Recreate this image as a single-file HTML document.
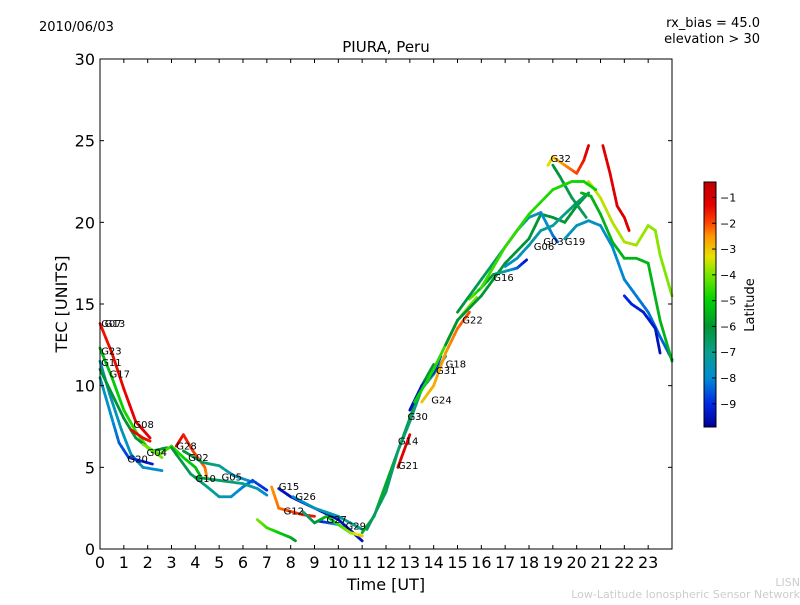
<!DOCTYPE html>
<html><head><meta charset="utf-8">
<style>
body{margin:0;background:#fff;}
svg text{font-family:"DejaVu Sans","Liberation Sans",sans-serif;}
</style></head>
<body>
<svg id="chart" width="800" height="600" xmlns="http://www.w3.org/2000/svg">
<rect width="800" height="600" fill="#fff"/>
<text x="39" y="31" font-size="13">2010/06/03</text>
<text x="760" y="27" font-size="13" text-anchor="end">rx_bias = 45.0</text>
<text x="760" y="43" font-size="13" text-anchor="end">elevation &gt; 30</text>
<text x="386" y="52" font-size="15" text-anchor="middle">PIURA, Peru</text>
<g id="tracks"></g>
<g id="labels"></g>
<rect x="100" y="59" width="572" height="490" fill="none" stroke="#000" stroke-width="1"/>
<g id="axes"></g>
<text x="386" y="590" font-size="16" text-anchor="middle">Time [UT]</text>
<text transform="translate(67,304) rotate(-90)" font-size="16" text-anchor="middle">TEC [UNITS]</text>
<defs><linearGradient id="cgrad" x1="0" y1="1" x2="0" y2="0"></linearGradient></defs>
<rect x="704" y="182" width="12" height="245" fill="url(#cgrad)" stroke="#000" stroke-width="1"/>
<g id="cbar"></g>
<text transform="translate(754,305) rotate(-90)" font-size="13" text-anchor="middle">Latitude</text>
<text x="800" y="586" font-size="11" fill="#ccc" text-anchor="end">LISN</text>
<text x="800" y="598" font-size="11" fill="#ccc" text-anchor="end">Low-Latitude Ionospheric Sensor Network</text>
</svg>
<script>
const xTicks=[0,1,2,3,4,5,6,7,8,9,10,11,12,13,14,15,16,17,18,19,20,21,22,23];
const yTicks=[0,5,10,15,20,25,30];
const cbarTicks=[-1,-2,-3,-4,-5,-6,-7,-8,-9];
const trackNames=["G07","G23","G11","G17","G20","G08","G04","G28","G02","G10","G05","G12","G15","G26","G27","NA","G29","G21","G14","G30","G24","G31","G18","G22","G16","G06","G03","G32","G32b","G19","R1","Y1","GR1","B1","YG1"];
const trackPoints=[
[[0,13.8],[0.5,12],[1,9.8],[1.5,7.8],[2.1,6.8]],
[[0,12.3],[0.5,10.5],[1,8.5],[1.5,7.2],[2,6.2],[2.6,5.6]],
[[0,11.5],[0.4,9.5],[0.9,7.3],[1.3,5.8],[1.8,5],[2.6,4.8]],
[[0,11],[0.5,9.5],[1,8],[1.5,6.8],[2.2,6],[2.8,6.2]],
[[0,10.5],[0.5,8],[0.8,6.5],[1.2,5.6],[2.2,5.2]],
[[1.3,7.3],[1.8,6.8],[2.1,6.6]],
[[1.8,6.4],[2.5,5.8],[3,6.3],[3.5,5.6],[4,5],[4.2,4.5]],
[[3.2,6.3],[3.5,7],[3.9,6],[4.4,5],[4.5,4.3]],
[[3.5,6],[4.3,5.3],[5,5.1],[5.6,4.5],[6.4,4.1]],
[[3,6.2],[3.8,4.6],[4.5,3.8],[5,3.2],[5.5,3.2],[6,3.8],[6.4,4.2],[7,3.6]],
[[4,4.4],[5,4.2],[6,4.0],[6.6,3.7],[7,3.3]],
[[7.2,3.8],[7.5,2.5],[8,2.3],[8.5,2.1],[9,2.0]],
[[7.5,3.7],[8,3.2],[9,2.5],[10,1.8],[11,0.5]],
[[8.1,3.2],[9,2.5],[10,2],[11,1.2]],
[[9.2,1.7],[10,1.5],[10.5,1.0],[11,0.8]],
[[6.6,1.8],[7,1.3],[7.5,1],[8,0.7],[8.2,0.5]],
[[8.5,2.3],[9,1.6],[9.5,2.0],[10,1.5],[10.5,1],[11,0.8]],
[[12.5,5],[13,7]],
[[11,1],[11.5,2],[12,4],[12.5,6],[13,8],[13.5,10],[14,11.3]],
[[11.2,1.2],[12,3.5],[12.5,6],[13,7.8],[13.5,9.8],[14,10.7],[14.5,11.8]],
[[13.5,9],[14,10],[14.5,12],[15,13.5],[15.5,14.5]],
[[13,8.5],[13.5,10],[14,10.8],[14.3,11.8]],
[[13.2,9],[14,11],[14.5,12.5],[15,14],[15.8,15.4]],
[[14.5,12.5],[15,14],[16,15.5],[17,17.5],[18,19],[18.5,20.5],[19,20.3],[19.5,20],[20,21],[20.5,21.8]],
[[15.5,15.3],[16,16],[16.5,16.8],[17,17],[17.5,17.2],[17.9,17.7]],
[[15,14.5],[16,16.5],[17,18.5],[17.5,19.5],[18,20.3],[18.5,20.6],[19,19.2],[19.2,18.8]],
[[17,17.3],[17.5,17.8],[18,18.6],[18.5,19.5],[19,19.8],[19.5,20.5],[20,21.2],[20.5,21.8]],
[[18.8,23.5],[19,24],[19.5,23.5],[20,23],[20.3,23.8],[20.5,24.7]],
[[19,23.5],[19.3,22.8],[19.8,21.5],[20.4,20.3]],
[[19.5,19],[20,19.8],[20.5,20.1],[21,19.8],[21.5,18.5],[22,16.5],[22.5,15.5],[23,14.5],[23.5,13],[24,11.6]],
[[21.1,24.7],[21.4,23],[21.7,21],[22,20.3],[22.2,19.5]],
[[20.5,22.5],[21,21.5],[21.5,20],[22,18.8],[22.5,18.6],[23,19.8],[23.3,19.5],[23.5,18],[24,15.5]],
[[20.2,21.8],[20.6,21.6],[21,20.5],[21.5,18.8],[22,17.8],[22.5,17.8],[23,17.5],[23.5,14],[24,11.5]],
[[22,15.5],[22.3,15],[22.8,14.5],[23.3,13.5],[23.5,12]],
[[16,16],[17,18.5],[18,20.5],[19,22],[19.8,22.5],[20.3,22.5],[20.8,22]]
];
const trackLatStart=[-1.5,-5.5,-7.5,-6,-7.5,-1.3,-4,-1.2,-6,-6,-6,-2.5,-9.5,-8,-9.5,-4,-7,-1.2,-5.5,-6.5,-3,-9.5,-5,-6,-4,-6,-8,-3.5,-6,-7.5,-1.2,-3.5,-5.5,-9,-4.5];
const trackLatEnd=[-1.2,-4,-8,-6,-9.3,-1.5,-5.5,-2.5,-8,-9,-8,-1.5,-9.5,-7,-4,-6,-3,-1.2,-6,-7,-2,-9,-4,-6,-9.5,-8.5,-6.5,-1,-6.5,-8.5,-1,-4,-5.5,-9.5,-5];
const labelNames=["G07","G13","G23","G11","G17","G08","G04","G28","G20","G02","G10","G05","G15","G26","G12","G27","G29","G21","G14","G30","G24","G31","G18","G22","G16","G06","G03","G32","G19"];
const labelT=[0.05,0.2,0.05,0.05,0.4,1.4,1.95,3.2,1.15,3.7,4,5.1,7.5,8.2,7.7,9.5,10.3,12.5,12.5,12.9,13.9,14.1,14.5,15.2,16.5,18.2,18.6,18.9,19.5];
const labelV=[13.6,13.6,11.9,11.2,10.5,7.4,5.7,6.1,5.3,5.4,4.1,4.2,3.6,3.0,2.1,1.6,1.2,4.9,6.4,7.9,8.9,10.7,11.1,13.8,16.4,18.3,18.6,23.7,18.6];
const X=t=>100+t*572/24, Y=v=>549-v*490/30;
const vmin=-9.9,vmax=-0.4;
const cstops=[[-9.9,[0,0,150]],[-9,[0,40,230]],[-8,[0,140,210]],[-7,[10,160,140]],[-6,[0,150,50]],[-5,[0,210,0]],[-4,[120,230,0]],[-3.3,[230,225,0]],[-2.5,[255,150,0]],[-2,[255,70,0]],[-1.3,[230,0,0]],[-0.4,[190,0,0]]];
function cmap(lat){lat=Math.max(vmin,Math.min(vmax,lat));
for(let i=0;i<cstops.length-1;i++){const a=cstops[i],b=cstops[i+1];if(lat<=b[0]){const f=(lat-a[0])/(b[0]-a[0]);
return 'rgb('+a[1].map((c,j)=>Math.round(c+(b[1][j]-c)*f)).join(',')+')';}}
return 'rgb(190,0,0)';}
const NS='http://www.w3.org/2000/svg';
const grad=document.getElementById('cgrad');
cstops.forEach(s=>{const st=document.createElementNS(NS,'stop');st.setAttribute('offset',(s[0]-vmin)/(vmax-vmin));st.setAttribute('stop-color','rgb('+s[1].join(',')+')');grad.appendChild(st);});
const tg=document.getElementById('tracks');
trackPoints.forEach((pts,i)=>{
const g=document.createElementNS(NS,'g');


const n=pts.length-1;
for(let k=0;k<n;k++){const sub=4;
for(let s=0;s<sub;s++){const a=s/sub,b=(s+1)/sub;
const t1=pts[k][0]+(pts[k+1][0]-pts[k][0])*a,v1=pts[k][1]+(pts[k+1][1]-pts[k][1])*a;
const t2=pts[k][0]+(pts[k+1][0]-pts[k][0])*b,v2=pts[k][1]+(pts[k+1][1]-pts[k][1])*b;
const fr=(k+(a+b)/2)/n;const lat=trackLatStart[i]+(trackLatEnd[i]-trackLatStart[i])*fr;
const l=document.createElementNS(NS,'line');
l.setAttribute('x1',X(t1));l.setAttribute('y1',Y(v1));l.setAttribute('x2',X(t2));l.setAttribute('y2',Y(v2));
l.setAttribute('stroke',cmap(lat));l.setAttribute('stroke-width','2.8');l.setAttribute('stroke-linecap','round');


g.appendChild(l);}}
tg.appendChild(g);});
const lg=document.getElementById('labels');
labelNames.forEach((nm,i)=>{const t=document.createElementNS(NS,'text');
t.setAttribute('x',X(labelT[i]));t.setAttribute('y',Y(labelV[i]));t.setAttribute('font-size','10');t.textContent=nm;


lg.appendChild(t);});
const ax=document.getElementById('axes');
function add(tag,attrs,txt){const e=document.createElementNS(NS,tag);for(const k in attrs)e.setAttribute(k,attrs[k]);if(txt!==undefined)e.textContent=txt;ax.appendChild(e);return e;}
xTicks.forEach(t=>{const x=X(t);
const a=add('line',{x1:x,y1:549,x2:x,y2:545,stroke:'#000'});
const b=add('line',{x1:x,y1:59,x2:x,y2:63,stroke:'#000'});
const l=add('text',{x:x,y:568,'font-size':'16','text-anchor':'middle'},String(t));});
yTicks.forEach(v=>{const y=Y(v);
const a=add('line',{x1:100,y1:y,x2:104,y2:y,stroke:'#000'});
const b=add('line',{x1:672,y1:y,x2:668,y2:y,stroke:'#000'});
const l=add('text',{x:95,y:y+6,'font-size':'16','text-anchor':'end'},String(v));});
const cb=document.getElementById('cbar');
cbarTicks.forEach(v=>{const y=182+(vmax-v)/(vmax-vmin)*245;
const l=document.createElementNS(NS,'line');l.setAttribute('x1',716);l.setAttribute('x2',712);l.setAttribute('y1',y);l.setAttribute('y2',y);l.setAttribute('stroke','#000');


cb.appendChild(l);
const t=document.createElementNS(NS,'text');t.setAttribute('x',720);t.setAttribute('y',y+4);t.setAttribute('font-size','11');t.textContent='\u2212'+Math.abs(v);


cb.appendChild(t);});
</script>
</body></html>
